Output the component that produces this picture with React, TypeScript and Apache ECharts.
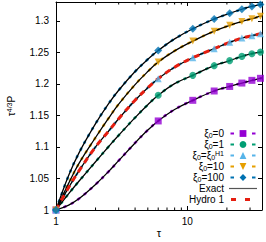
import React, { useEffect, useRef } from "react";
import * as echarts from "echarts";

// ---- data ----
const TAU = [1, 1.25, 1.5, 2, 2.5, 3, 4, 5, 6, 8, 11, 16, 21, 26, 31, 36, 37];
const MARKER_TAU = [1, 6, 11, 16, 21, 26, 31, 36];
const MINOR_TICKS = [2, 3, 4, 5, 6, 7, 8, 9, 20, 30];
const X_MIN = 1;
const X_MAX = 37;
const Y_MIN = 1;
const Y_MAX = 1.33;
const Y_STEP = 0.05;

const XI_0 = [1.0, 1.0078, 1.0181, 1.0406, 1.0605, 1.0783, 1.1064, 1.1268, 1.1413, 1.1595, 1.174, 1.1888, 1.196, 1.2014, 1.2057, 1.2089, 1.2095];
const XI_1 = [1.0, 1.026, 1.046, 1.0766, 1.0999, 1.1185, 1.1466, 1.167, 1.182, 1.2005, 1.2136, 1.229, 1.237, 1.2437, 1.248, 1.2505, 1.251];
const XI_H1 = [1.0, 1.036, 1.0625, 1.1, 1.1245, 1.1448, 1.1742, 1.1941, 1.2084, 1.2265, 1.2416, 1.256, 1.266, 1.2727, 1.2765, 1.2796, 1.28];
const XI_10 = [1.0, 1.0426, 1.0743, 1.115, 1.145, 1.168, 1.199, 1.2197, 1.2347, 1.2525, 1.268, 1.2837, 1.293, 1.299, 1.3035, 1.3075, 1.308];
const XI_100 = [1.0, 1.055, 1.091, 1.137, 1.168, 1.19, 1.2197, 1.2391, 1.253, 1.2715, 1.2875, 1.303, 1.312, 1.3185, 1.323, 1.326, 1.3265];
const HYDRO_1 = [1.0, 1.036, 1.0625, 1.1, 1.1245, 1.1448, 1.1742, 1.1941, 1.2084, 1.2265, 1.2416, 1.256, 1.266, 1.2727, 1.2765, 1.2796, 1.28];

const SERIES_KEYS = ["xi0_0", "xi0_1", "xi0_H1", "xi0_10", "xi0_100"];
const LEGEND_TEXT = [
  "{m|ξ}{b|0}{m|=0}",
  "{m|ξ}{b|0}{m|=1}",
  "{m|ξ}{b|0}{m|=ξ}{b|0}{p|H1}",
  "{m|ξ}{b|0}{m|=10}",
  "{m|ξ}{b|0}{m|=100}",
  "{m|Exact}",
  "{m|Hydro 1}",
];
const Y_NAME = "{m|τ}{p|4/3}{m|P}";
const X_NAME = "τ";

const FONT = "'Liberation Sans', Arial, Helvetica, sans-serif";

export default function App() {
  const ref = useRef<HTMLDivElement>(null);

  useEffect(() => {
    const chart = echarts.init(ref.current!, null, { renderer: "svg" });

    const rich = {
      m: { fontSize: 10, fontFamily: FONT, color: "#000", lineHeight: 11, verticalAlign: "middle" },
      b: { fontSize: 7, fontFamily: FONT, color: "#000", lineHeight: 11, verticalAlign: "bottom" },
      p: { fontSize: 7, fontFamily: FONT, color: "#000", lineHeight: 11, verticalAlign: "top" },
    };

    const pairs = (ys: number[]) => TAU.map((t, i) => [t, ys[i]]);
    const markerPairs = (ys: number[]) =>
      TAU.map((t, i) => [t, ys[i]]).filter((p) => MARKER_TAU.includes(p[0]));

    const curves = [
      { key: SERIES_KEYS[0], ys: XI_0, color: "#9400d3", symbol: "rect", size: 7, rotate: 0 },
      { key: SERIES_KEYS[1], ys: XI_1, color: "#009e73", symbol: "circle", size: 7, rotate: 0 },
      { key: SERIES_KEYS[2], ys: XI_H1, color: "#56b4e9", symbol: "triangle", size: 7, rotate: 0 },
      { key: SERIES_KEYS[3], ys: XI_10, color: "#e69f00", symbol: "triangle", size: 7, rotate: 180 },
      { key: SERIES_KEYS[4], ys: XI_100, color: "#0072b2", symbol: "diamond", size: 8, rotate: 0 },
    ];

    const SMOOTH = 0.4;
    const series: any[] = [];
    curves.forEach((c) =>
      series.push({
        type: "line",
        name: c.key,
        data: pairs(c.ys),
        smooth: SMOOTH,
        symbol: c.symbol,
        symbolSize: c.size,
        symbolRotate: c.rotate,
        showSymbol: false,
        lineStyle: { color: c.color, width: 2.5, type: [3, 5] },
        itemStyle: { color: c.color },
        z: 2,
        silent: true,
      })
    );
    curves.forEach((c) =>
      series.push({
        type: "line",
        name: "Exact",
        data: pairs(c.ys),
        smooth: SMOOTH,
        symbol: "none",
        lineStyle: { color: "#000", width: 1.3 },
        itemStyle: { color: "#000" },
        z: 3,
        silent: true,
      })
    );
    series.push({
      type: "line",
      name: "Hydro 1",
      data: pairs(HYDRO_1),
      smooth: SMOOTH,
      symbol: "none",
      lineStyle: { color: "#e51e10", width: 3, type: [6, 5] },
      itemStyle: { color: "#e51e10" },
      z: 4,
      silent: true,
    });
    curves.forEach((c) =>
      series.push({
        type: "scatter",
        name: c.key,
        data: markerPairs(c.ys),
        symbol: c.symbol,
        symbolSize: c.size,
        symbolRotate: c.rotate,
        itemStyle: { color: c.color },
        z: 5,
        silent: true,
      })
    );
    series.push({
      type: "custom",
      name: "minorTicks",
      data: MINOR_TICKS.map((t) => [t, Y_MIN]),
      silent: true,
      z: 6,
      renderItem: (params: any, api: any) => {
        const x = api.coord([api.value(0), api.value(1)])[0];
        const cs = params.coordSys;
        const yb = cs.y + cs.height;
        const yt = cs.y;
        return {
          type: "group",
          children: [
            { type: "line", shape: { x1: x, y1: yb, x2: x, y2: yb - 2.5 }, style: { stroke: "#000", lineWidth: 1 } },
            { type: "line", shape: { x1: x, y1: yt, x2: x, y2: yt + 2.5 }, style: { stroke: "#000", lineWidth: 1 } },
          ],
        };
      },
    });

    const axisLine = { show: true, onZero: false, lineStyle: { color: "#000", width: 1 } };
    const axisTick = { show: true, inside: true, length: 4, lineStyle: { color: "#000", width: 1 } };

    const legendData = SERIES_KEYS.map(
      (k) => ({ name: k, lineStyle: { width: 2, type: [3.5, 18], dashOffset: 20.3 } } as any)
    );
    legendData.push({ name: "Exact", itemStyle: { opacity: 0 }, lineStyle: { width: 1.2, color: "#555" } });
    legendData.push({ name: "Hydro 1", itemStyle: { opacity: 0 }, lineStyle: { width: 3, type: [5, 9], dashOffset: 12 } });
    const legendNames = [...SERIES_KEYS, "Exact", "Hydro 1"];

    chart.setOption({
      animation: false,
      backgroundColor: "#fff",
      grid: { left: 56, right: 4, top: 2, bottom: 32, containLabel: false, outerBoundsMode: "none" },
      xAxis: [
        {
          type: "log",
          logBase: 10,
          min: X_MIN,
          max: X_MAX,
          position: "bottom",
          name: X_NAME,
          nameLocation: "middle",
          nameGap: 17,
          nameMoveOverlap: false,
          nameTextStyle: { fontFamily: FONT, fontSize: 11, color: "#000" },
          axisLine,
          axisTick,
          axisLabel: { fontFamily: FONT, fontSize: 10, color: "#000", margin: 6, showMaxLabel: false },
          splitLine: { show: false },
          minorTick: { show: false },
        },
        {
          type: "log",
          logBase: 10,
          min: X_MIN,
          max: X_MAX,
          position: "top",
          axisLine,
          axisTick,
          axisLabel: { show: false },
          splitLine: { show: false },
        },
      ],
      yAxis: [
        {
          type: "value",
          min: Y_MIN,
          max: Y_MAX,
          interval: Y_STEP,
          position: "left",
          name: Y_NAME,
          nameLocation: "middle",
          nameRotate: 90,
          nameGap: 39,
          nameMoveOverlap: false,
          nameTextStyle: { fontFamily: FONT, fontSize: 10, color: "#000", rich },
          axisLine,
          axisTick,
          axisLabel: { fontFamily: FONT, fontSize: 10, color: "#000", margin: 7, showMaxLabel: false },
          splitLine: { show: false },
        },
        {
          type: "value",
          min: Y_MIN,
          max: Y_MAX,
          interval: Y_STEP,
          position: "right",
          axisLine,
          axisTick,
          axisLabel: { show: false },
          splitLine: { show: false },
        },
      ],
      legend: {
        orient: "vertical",
        right: 7.5,
        top: 128,
        padding: 0,
        align: "right",
        itemWidth: 28,
        itemHeight: 8.5,
        itemGap: 0,
        selectedMode: false,
        data: legendData,
        formatter: (n: string) => LEGEND_TEXT[legendNames.indexOf(n)],
        textStyle: { fontFamily: FONT, fontSize: 10, color: "#000", lineHeight: 11, rich },
      },
      series,
    });

    return () => chart.dispose();
  }, []);

  return (
    <div
      ref={ref}
      style={{ position: "absolute", left: 0, top: 0, width: 266, height: 242, background: "#fff" }}
    />
  );
}
